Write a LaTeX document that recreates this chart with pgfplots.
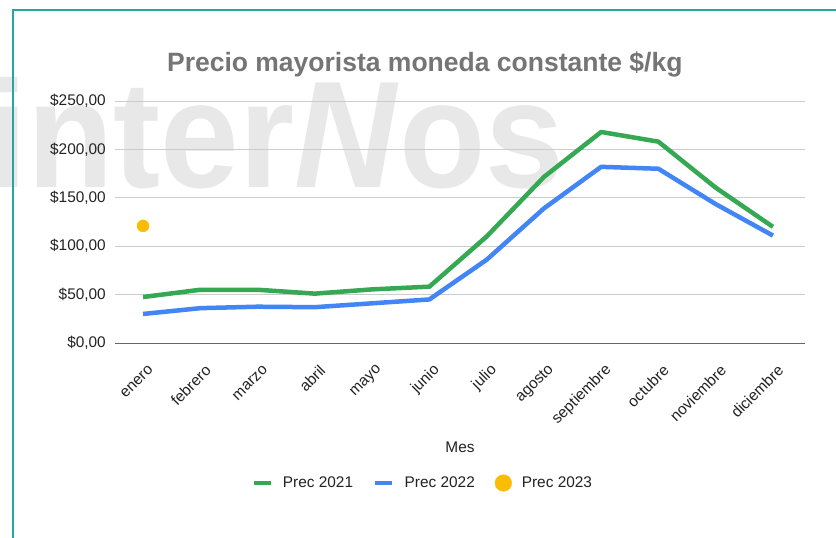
\documentclass[border=0pt]{standalone}
\usepackage{fontspec}
\setmainfont{Liberation Sans}
\newfontfamily\wmfont[FakeStretch=0.93]{Liberation Sans}
\usepackage{pgfplots}
\pgfplotsset{compat=1.18}

\definecolor{c21}{HTML}{34A853}
\definecolor{c22}{HTML}{4285F4}
\definecolor{c23}{HTML}{FBBC04}
\definecolor{titlegray}{HTML}{757575}
\definecolor{txt}{HTML}{222222}
\definecolor{gridc}{HTML}{CCCCCC}
\definecolor{wm}{HTML}{E8E8E8}
\definecolor{frame}{RGB}{38,166,160}

\begin{document}
\begin{tikzpicture}
\path[use as bounding box, clip] (0,0) rectangle (836pt,-538pt);
\fill[white] (0,0) rectangle (836pt,-538pt);
% watermark
\node[anchor=base west, inner sep=0, text=wm, font=\wmfont\fontsize{152}{152}\selectfont\bfseries]
  at (-12pt,-187pt) {inter\textit{N}os};
% frame
\draw[frame, line width=2pt] (12.5pt,-540pt) -- (12.5pt,-9.5pt) -- (840pt,-9.5pt);

\begin{axis}[
    at={(115pt,-343pt)}, anchor=south west,
    scale only axis,
    width=690pt, height=242pt,
    xmin=-0.49, xmax=11.56,
    ymin=0, ymax=250,
    ytick={0,50,100,150,200,250},
    yticklabels={{\$0,00},{\$50,00},{\$100,00},{\$150,00},{\$200,00},{\$250,00}},
    xtick={0,...,11},
    xticklabels={enero,febrero,marzo,abril,mayo,junio,julio,agosto,septiembre,octubre,noviembre,diciembre},
    /pgf/number format/assume math mode=true,
    axis x line*=bottom, axis y line*=left,
    x axis line style={draw=gray!80!black, line width=1pt, -},
    y axis line style={draw=none},
    major tick length=0pt,
    ymajorgrids,
    grid style={gridc, line width=1pt},
    tick label style={font=\fontsize{15.4}{18}\selectfont, text=txt},
    yticklabel style={inner sep=0pt, xshift=-9pt},
    xticklabel style={rotate=45, anchor=east, inner sep=0pt, xshift=-12pt, yshift=-23pt},
    title={Precio mayorista moneda constante \$/kg},
    title style={at={(0.449,1.128)}, anchor=center, font=\fontsize{26.5}{30}\selectfont\bfseries, text=titlegray},
    xlabel={Mes},
    xlabel style={at={(0.5,-0.43)}, anchor=center, font=\fontsize{15.4}{18}\selectfont, text=txt},
    legend columns=3,
    legend style={at={(0.446,-0.5785)}, anchor=center, draw=none, fill=none,
        font=\fontsize{15.4}{18}\selectfont, text=txt, inner sep=0pt,
        /tikz/every odd column/.append style={column sep=8pt},
        /tikz/every even column/.append style={column sep=18pt}},
    clip=false,
]
\addplot[c21, line width=4.5pt, line join=round, legend image code/.code={\draw[c21, line width=4.5pt] (0pt,0pt) -- (17pt,0pt);}] coordinates {
    (0,47.5) (1,55) (2,55) (3,51) (4,55.4) (5,58.2)
    (6,110) (7,171.5) (8,218) (9,208) (10,160.5) (11,120)
};
\addlegendentry{Prec 2021}
\addplot[c22, line width=4.5pt, line join=round, legend image code/.code={\draw[c22, line width=4.5pt] (0pt,0pt) -- (17pt,0pt);}] coordinates {
    (0,30) (1,36) (2,37.5) (3,37) (4,41) (5,45)
    (6,86) (7,139) (8,182) (9,180) (10,143.5) (11,111)
};
\addlegendentry{Prec 2022}
\addplot[only marks, mark=*, mark size=6pt, c23, mark options={draw=c23, fill=c23},
    legend image code/.code={\fill[c23] (8.3pt,0pt) circle (8.3pt);}] coordinates {
    (0,121)
};
\addlegendentry{Prec 2023}
\end{axis}
\end{tikzpicture}
\end{document}
